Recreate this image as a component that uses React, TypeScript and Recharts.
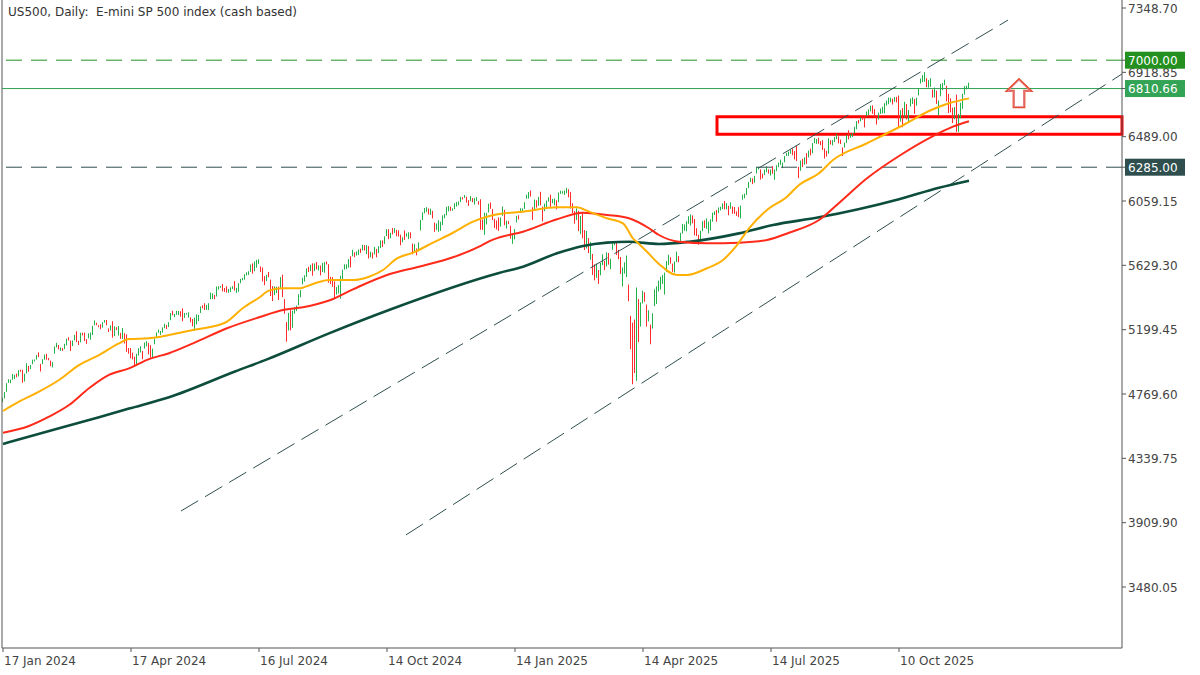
import { ComposedChart, Bar, Line, XAxis, YAxis, ReferenceLine, ReferenceArea, ReferenceDot } from "recharts"

// daily bars, [high, low, close]
const q1y24 = [
  [4744, 4714, 4739], [4783, 4740, 4780], [4842, 4785, 4840], [4868, 4844, 4851], [4866, 4842, 4865], [4903, 4865, 4868], [4898, 4870, 4894], [4906, 4881, 4891], [4929, 4887, 4928], [4932, 4918, 4925], [4931, 4845, 4846],
  [4906, 4853, 4906], [4975, 4907, 4959], [4957, 4918, 4943], [4963, 4936, 4954], [4999, 4969, 4995], [5000, 4987, 4998], [5030, 5000, 5027], [5048, 5016, 5022], [4971, 4920, 4953], [5002, 4969, 5001], [5033, 4999, 5030], [5038, 4999, 5006], [5010, 4995, 5002], [4993, 4955, 4976], [4983, 4947, 4982], [5088, 5039, 5087], [5111, 5081, 5089], [5097, 5068, 5070], [5080, 5058, 5078], [5077, 5058, 5069], [5105, 5070, 5096],
  [5140, 5094, 5137], [5149, 5127, 5131], [5127, 5057, 5079], [5127, 5090, 5105], [5165, 5128, 5157], [5189, 5117, 5124], [5125, 5097, 5117], [5179, 5115, 5175], [5179, 5161, 5165], [5180, 5124, 5150], [5136, 5105, 5117], [5175, 5142, 5149], [5180, 5132, 5179], [5225, 5164, 5225], [5262, 5229, 5241], [5246, 5229, 5234], [5229, 5216, 5218], [5236, 5203, 5204], [5249, 5213, 5248], [5264, 5246, 5254],
]
const q2y24 = [
  [5264, 5229, 5243], [5208, 5184, 5205], [5228, 5194, 5211], [5256, 5146, 5147], [5222, 5157, 5204], [5216, 5197, 5202], [5224, 5160, 5209], [5178, 5138, 5161], [5211, 5138, 5199], [5176, 5107, 5123], [5168, 5052, 5061], [5077, 5039, 5051], [5077, 5008, 5022], [5046, 5001, 5011], [5019, 4953, 4967], [5038, 4969, 5010], [5076, 5027, 5070], [5089, 5047, 5072], [5057, 5002, 5048], [5114, 5073, 5100], [5123, 5088, 5116], [5111, 5035, 5036],
  [5096, 5013, 5018], [5073, 5011, 5064], [5139, 5102, 5128], [5181, 5143, 5181], [5200, 5178, 5187], [5191, 5165, 5188], [5215, 5180, 5214], [5239, 5209, 5223], [5230, 5204, 5221], [5250, 5217, 5247], [5311, 5263, 5308], [5325, 5296, 5297], [5305, 5283, 5303], [5325, 5299, 5308], [5324, 5297, 5321], [5323, 5287, 5307], [5342, 5256, 5268], [5311, 5278, 5305], [5310, 5300, 5305], [5315, 5280, 5306], [5282, 5249, 5267], [5271, 5222, 5236], [5280, 5191, 5278],
  [5302, 5235, 5283], [5298, 5257, 5291], [5354, 5311, 5354], [5362, 5342, 5352], [5376, 5331, 5347], [5365, 5331, 5361], [5376, 5331, 5375], [5447, 5403, 5421], [5442, 5404, 5434], [5432, 5403, 5431], [5488, 5421, 5473], [5490, 5467, 5487], [5492, 5480, 5487], [5505, 5455, 5473], [5478, 5452, 5465], [5490, 5447, 5448], [5472, 5446, 5469], [5483, 5451, 5478], [5490, 5471, 5483], [5524, 5460, 5460],
]
const q3y24 = [
  [5479, 5445, 5475], [5510, 5453, 5509], [5539, 5510, 5537], [5545, 5530, 5540], [5570, 5534, 5567], [5583, 5562, 5572], [5590, 5565, 5577], [5635, 5586, 5633], [5642, 5574, 5585], [5655, 5590, 5615], [5666, 5614, 5631], [5670, 5639, 5667], [5622, 5584, 5589], [5615, 5522, 5545], [5557, 5497, 5505], [5566, 5524, 5564], [5585, 5550, 5555], [5534, 5424, 5427], [5491, 5391, 5399], [5488, 5430, 5459], [5487, 5444, 5464], [5487, 5398, 5436], [5551, 5478, 5522],
  [5567, 5417, 5446], [5404, 5306, 5347], [5250, 5119, 5186], [5312, 5194, 5240], [5330, 5195, 5199], [5326, 5212, 5319], [5350, 5306, 5344], [5360, 5324, 5344], [5436, 5362, 5434], [5464, 5416, 5455], [5546, 5502, 5543], [5563, 5521, 5554], [5609, 5552, 5608], [5620, 5584, 5597], [5633, 5591, 5620], [5643, 5560, 5571], [5642, 5590, 5635], [5651, 5602, 5616], [5629, 5595, 5625], [5628, 5562, 5592], [5646, 5585, 5592], [5651, 5580, 5648],
  [5655, 5635, 5640], [5637, 5513, 5529], [5552, 5505, 5520], [5551, 5486, 5503], [5522, 5403, 5408], [5484, 5434, 5471], [5497, 5441, 5496], [5560, 5406, 5554], [5600, 5535, 5596], [5636, 5601, 5626], [5636, 5604, 5633], [5671, 5614, 5634], [5690, 5615, 5618], [5733, 5690, 5714], [5716, 5684, 5703], [5722, 5695, 5718], [5735, 5698, 5732], [5741, 5712, 5722], [5767, 5729, 5745], [5764, 5728, 5738], [5765, 5704, 5762],
]
const q4y24 = [
  [5758, 5675, 5709], [5720, 5683, 5709], [5715, 5675, 5700], [5753, 5702, 5751], [5739, 5683, 5696], [5757, 5711, 5751], [5796, 5745, 5792], [5796, 5752, 5780], [5823, 5772, 5815], [5871, 5825, 5859], [5871, 5804, 5815], [5847, 5810, 5842], [5879, 5836, 5841], [5878, 5846, 5865], [5866, 5824, 5853], [5863, 5821, 5851], [5834, 5763, 5797], [5817, 5784, 5809], [5862, 5799, 5808], [5843, 5821, 5823], [5850, 5805, 5833], [5850, 5810, 5813], [5775, 5703, 5705],
  [5772, 5724, 5728], [5742, 5696, 5712], [5783, 5723, 5782], [5933, 5863, 5929], [5983, 5931, 5973], [6012, 5977, 5996], [6018, 5986, 6001], [6009, 5969, 5984], [6008, 5966, 5985], [5993, 5943, 5949], [5915, 5853, 5870], [5909, 5865, 5894], [5931, 5853, 5917], [5921, 5860, 5917], [5963, 5899, 5949], [5972, 5944, 5969], [6020, 5963, 5987], [6025, 5990, 6021], [6021, 5993, 5999], [6010, 5995, 6003], [6044, 6004, 6032],
  [6053, 6022, 6047], [6056, 6031, 6050], [6087, 6053, 6086], [6085, 6070, 6075], [6100, 6080, 6090], [6088, 6049, 6053], [6065, 6026, 6034], [6092, 6058, 6084], [6079, 6051, 6051], [6078, 6035, 6051], [6085, 6060, 6074], [6058, 6035, 6050], [6071, 5867, 5872], [5935, 5866, 5867], [5982, 5833, 5931], [5978, 5903, 5974], [6041, 5983, 6040], [6049, 6007, 6037], [6006, 5932, 5971], [5941, 5879, 5907], [5929, 5869, 5882],
]
const q1y25 = [
  [5950, 5859, 5869], [5949, 5888, 5942], [6022, 5960, 5975], [6000, 5897, 5909], [5928, 5875, 5918], [5925, 5905, 5915], [5893, 5808, 5827], [5841, 5773, 5837], [5871, 5803, 5843], [5960, 5915, 5950], [5964, 5936, 5937], [6011, 5979, 5997], [6010, 5990, 6000], [6051, 6006, 6049], [6101, 6074, 6086], [6119, 6075, 6119], [6129, 6089, 6101], [6018, 5932, 6012], [6069, 5994, 6068], [6064, 6015, 6039], [6087, 6027, 6071], [6121, 6030, 6041],
  [6022, 5923, 5995], [6042, 5991, 6038], [6062, 6007, 6061], [6084, 6055, 6084], [6101, 6020, 6026], [6073, 6044, 6066], [6076, 6030, 6069], [6064, 6003, 6052], [6116, 6051, 6115], [6128, 6107, 6115], [6125, 6108, 6118], [6129, 6100, 6129], [6147, 6111, 6144], [6138, 6084, 6118], [6120, 6009, 6013], [6044, 5978, 5983], [5992, 5908, 5955], [6010, 5932, 5956], [5994, 5858, 5862], [5959, 5837, 5955],
  [5986, 5810, 5850], [5865, 5732, 5779], [5860, 5742, 5843], [5812, 5711, 5739], [5785, 5667, 5770], [5705, 5565, 5615], [5636, 5529, 5573], [5642, 5546, 5599], [5598, 5505, 5522], [5645, 5563, 5639], [5703, 5631, 5675], [5660, 5597, 5615], [5716, 5622, 5676], [5712, 5634, 5663], [5673, 5603, 5668], [5775, 5733, 5768], [5786, 5764, 5777], [5780, 5698, 5712], [5732, 5670, 5693], [5685, 5572, 5581], [5615, 5488, 5612],
]
const q2y25 = [
  [5650, 5574, 5633], [5695, 5551, 5671], [5501, 5390, 5397], [5292, 5069, 5074], [5246, 4835, 5062], [5267, 4910, 4982], [5481, 4857, 5457], [5404, 5116, 5268], [5382, 5220, 5363], [5460, 5375, 5406], [5450, 5386, 5397], [5367, 5220, 5276], [5329, 5255, 5283], [5233, 5102, 5158], [5309, 5207, 5288], [5469, 5356, 5376], [5489, 5371, 5485], [5528, 5455, 5525], [5553, 5468, 5529], [5565, 5505, 5561], [5581, 5434, 5569],
  [5658, 5586, 5604], [5700, 5631, 5686], [5683, 5640, 5650], [5641, 5586, 5607], [5655, 5581, 5631], [5721, 5651, 5664], [5691, 5650, 5660], [5847, 5786, 5844], [5906, 5842, 5886], [5903, 5861, 5892], [5924, 5856, 5917], [5958, 5907, 5958], [5969, 5895, 5964], [5963, 5910, 5941], [5939, 5830, 5845], [5878, 5825, 5842], [5833, 5767, 5802], [5860, 5800, 5850], [5925, 5857, 5922], [5930, 5879, 5889], [5943, 5874, 5912], [5922, 5842, 5912],
  [5937, 5862, 5936], [5981, 5921, 5970], [5990, 5966, 5971], [5999, 5921, 5939], [6016, 5978, 6000], [6021, 5996, 6006], [6043, 6005, 6039], [6059, 6003, 6022], [6045, 6003, 6045], [6027, 5964, 5977], [6050, 6007, 6033], [6023, 5974, 5982], [6019, 5974, 5981], [5990, 5960, 5975], [6018, 5952, 5967], [6028, 5943, 6025], [6101, 6068, 6092], [6108, 6077, 6092], [6146, 6100, 6141], [6187, 6144, 6173], [6215, 6186, 6205],
]
const q3y25 = [
  [6211, 6172, 6198], [6227, 6181, 6227], [6285, 6243, 6279], [6287, 6270, 6280], [6271, 6202, 6230], [6242, 6210, 6226], [6269, 6232, 6263], [6290, 6252, 6280], [6270, 6242, 6260], [6270, 6229, 6268], [6292, 6241, 6244], [6270, 6201, 6264], [6298, 6259, 6297], [6316, 6285, 6297], [6336, 6301, 6306], [6316, 6281, 6309], [6360, 6318, 6359], [6381, 6360, 6363], [6389, 6360, 6389], [6401, 6375, 6390], [6410, 6365, 6371], [6393, 6337, 6362], [6427, 6326, 6339],
  [6288, 6212, 6238], [6330, 6261, 6330], [6341, 6286, 6299], [6351, 6302, 6345], [6379, 6306, 6340], [6396, 6350, 6389], [6409, 6364, 6374], [6446, 6378, 6446], [6480, 6445, 6466], [6473, 6441, 6469], [6482, 6441, 6450], [6459, 6432, 6449], [6466, 6401, 6411], [6410, 6343, 6396], [6394, 6356, 6370], [6478, 6375, 6467], [6466, 6437, 6440], [6466, 6431, 6466], [6486, 6454, 6481], [6508, 6472, 6502], [6491, 6444, 6460],
  [6470, 6440, 6455], [6417, 6360, 6416], [6449, 6416, 6448], [6502, 6446, 6502], [6532, 6471, 6482], [6508, 6481, 6495], [6513, 6487, 6512], [6555, 6511, 6532], [6593, 6539, 6587], [6601, 6577, 6584], [6619, 6592, 6615], [6627, 6602, 6607], [6624, 6551, 6600], [6657, 6624, 6631], [6671, 6633, 6664], [6696, 6658, 6694], [6698, 6642, 6656], [6673, 6622, 6638], [6624, 6570, 6605], [6650, 6603, 6644], [6677, 6641, 6661], [6689, 6645, 6688],
]
const q4y25 = [
  [6713, 6645, 6711], [6731, 6697, 6715], [6750, 6706, 6716], [6749, 6719, 6740], [6743, 6704, 6715], [6753, 6722, 6753], [6755, 6718, 6735], [6764, 6550, 6553], [6666, 6590, 6655], [6680, 6552, 6644], [6722, 6616, 6671], [6707, 6604, 6630], [6667, 6583, 6664], [6744, 6690, 6735], [6752, 6708, 6736], [6741, 6642, 6699], [6749, 6696, 6738], [6807, 6764, 6792], [6877, 6844, 6875], [6900, 6854, 6891], [6920, 6856, 6891], [6880, 6820, 6823], [6867, 6817, 6840],
  [6880, 6822, 6852], [6804, 6750, 6771], [6817, 6751, 6796], [6796, 6708, 6720], [6731, 6631, 6728], [6841, 6759, 6832], [6848, 6800, 6846], [6870, 6833, 6851], [6829, 6725, 6737], [6775, 6647, 6734], [6745, 6652, 6672], [6683, 6580, 6617], [6687, 6606, 6642], [6770, 6522, 6538], [6641, 6521, 6603], [6716, 6612, 6705], [6776, 6675, 6766], [6827, 6770, 6813], [6830, 6805, 6815], [6850, 6812, 6849],
]

// moving averages, [bar, value]
const ma50 = [
  [0, 4656], [8, 4718], [18, 4785], [28, 4863], [38, 4963], [48, 5030], [58, 5108], [63, 5137], [73, 5142], [83, 5164], [95, 5197], [103, 5215], [112, 5253], [120, 5344], [128, 5413], [133, 5460], [140, 5476], [148, 5476], [155, 5505], [163, 5531], [175, 5531], [183, 5553], [190, 5598], [197, 5676], [205, 5714], [215, 5781], [225, 5847], [235, 5921], [242, 5954], [248, 5972], [260, 5988], [277, 6017], [287, 6017], [293, 5988], [302, 5944], [310, 5910], [315, 5810], [318, 5772], [322, 5720], [328, 5638], [337, 5565], [342, 5565], [352, 5610], [360, 5665], [367, 5765], [373, 5877], [382, 5999], [392, 6088], [398, 6166], [408, 6244], [415, 6333], [432, 6445], [448, 6552], [465, 6672], [473, 6712], [483, 6745],
]
const ma100 = [
  [0, 4511], [13, 4556], [23, 4618], [33, 4696], [43, 4808], [53, 4897], [63, 4941], [73, 5003], [83, 5042], [95, 5108], [112, 5209], [128, 5282], [140, 5331], [150, 5349], [163, 5394], [175, 5469], [192, 5565], [208, 5620], [225, 5683], [238, 5754], [243, 5790], [248, 5815], [260, 5854], [277, 5937], [290, 5981], [302, 5966], [313, 5944], [323, 5877], [328, 5832], [338, 5787], [352, 5777], [368, 5781], [382, 5799], [393, 5847], [408, 5932], [418, 6046], [432, 6211], [448, 6360], [465, 6493], [475, 6556], [483, 6592],
]
const ma200 = [
  [0, 4436], [28, 4540], [48, 4615], [63, 4672], [83, 4748], [116, 4920], [132, 5001], [163, 5175], [194, 5336], [248, 5578], [260, 5620], [277, 5710], [290, 5759], [302, 5781], [313, 5787], [328, 5772], [343, 5787], [368, 5843], [385, 5899], [408, 5950], [448, 6071], [468, 6148], [483, 6195],
]

const labelBars = [0, 64, 128, 192, 256, 320, 384, 448]
const dateLabels = ["17 Jan 2024", "17 Apr 2024", "16 Jul 2024", "14 Oct 2024", "14 Jan 2025", "14 Apr 2025", "14 Jul 2025", "10 Oct 2025"]
const priceTicks = [7348.7, 6918.85, 6489.0, 6059.15, 5629.3, 5199.45, 4769.6, 4339.75, 3909.9, 3480.05]
const levelValues = [7000, 6810.66, 6285]

// trendlines, [bar, price]
const channelUpper = [[89, 3988], [502.5, 7268]]
const channelLower = [[201.5, 3828], [559.5, 6908]]
const zone = { from: 357, low: 6505, high: 6622 }
const arrowAt = { bar: 508, price: 6779 }

const candles = [...q1y24, ...q2y24, ...q3y24, ...q4y24, ...q1y25, ...q2y25, ...q3y25, ...q4y25]

const rows: any[] = candles.map((b, i) => ({
  i,
  range: [b[1], b[0]],
  up: i === 0 ? true : b[2] >= candles[i - 1][2],
}))
ma50.forEach(([i, v]) => (rows[i].ma50 = v))
ma100.forEach(([i, v]) => (rows[i].ma100 = v))
ma200.forEach(([i, v]) => (rows[i].ma200 = v))

const FONT = "DejaVu Sans, Verdana, sans-serif"
const levelStyle = [
  { fill: "#23901f", line: "#23901f", dash: "16 9" },
  { fill: "#33a355", line: "#33a355", dash: undefined },
  { fill: "#2f4f4f", line: "#2f4f4f", dash: "16 9" },
]

function CandleShape(props: any) {
  const { x, y, width, height, payload } = props
  const top = Math.min(y, y + height)
  const h = Math.max(Math.abs(height), 1)
  return <rect x={Math.floor(x + width / 2)} y={top} width={1} height={h} fill={payload.up ? "#22b24c" : "#ff2b2b"} />
}

function PriceTick(props: any) {
  const { x, y, payload } = props
  const v = payload.value
  const k = levelValues.indexOf(v)
  if (k >= 0) {
    return (
      <g>
        <rect x={x - 3} y={y - 8.5} width={60} height={17} fill={levelStyle[k].fill} />
        <text x={x} y={y} dy={4.5} fill="#fff" fontSize={12} fontFamily={FONT}>{v.toFixed(2)}</text>
      </g>
    )
  }
  return <text x={x} y={y} dy={4.5} fill="#444" fontSize={12} fontFamily={FONT}>{v.toFixed(2)}</text>
}

function DateTick(props: any) {
  const { x, y, payload } = props
  return (
    <text x={x + 1} y={y} dy={11} fill="#444" fontSize={12} fontFamily={FONT} textAnchor="start">
      {dateLabels[labelBars.indexOf(payload.value)]}
    </text>
  )
}

function ArrowShape(props: any) {
  const { cx, cy } = props
  const d = `M${cx},${cy - 14} L${cx + 12},${cy - 2.3} L${cx + 5.3},${cy - 2.3} L${cx + 5.3},${cy + 14} L${cx - 5.3},${cy + 14} L${cx - 5.3},${cy - 2.3} L${cx - 12},${cy - 2.3} Z`
  return (
    <g>
      <path d={d} fill="none" stroke="#e4502b" strokeWidth={2.2} strokeLinejoin="miter" />
      <path d={d} fill="none" stroke="#e7a0d6" strokeWidth={0.7} transform={`translate(${cx * 0.06},${cy * 0.06}) scale(0.94)`} />
    </g>
  )
}

export default function App() {
  return (
    <div style={{ position: "absolute", left: 0, top: 0, width: 1200, height: 675, background: "#fff" }}>
      <div style={{ position: "absolute", left: 8, top: 5, fontFamily: FONT, fontSize: 12, color: "#333", whiteSpace: "pre", lineHeight: "14px", zIndex: 2 }}>
        {"US500, Daily:  E-mini SP 500 index (cash based)"}
      </div>
      <ComposedChart width={1200} height={675} data={rows} margin={{ top: 0, right: 0, bottom: 0, left: 2 }}>
        <XAxis
          dataKey="i"
          type="number"
          domain={[-0.5, 559.5]}
          ticks={labelBars}
          interval={0}
          height={27}
          tick={<DateTick />}
          tickSize={4}
          tickMargin={2}
          stroke="#555"
          allowDataOverflow
        />
        <YAxis
          orientation="right"
          type="number"
          domain={[3072.5, 7402.2]}
          ticks={[...priceTicks, ...levelValues]}
          interval={0}
          width={78}
          tick={<PriceTick />}
          tickSize={4}
          tickMargin={2}
          stroke="#555"
          allowDataOverflow
        />
        <ReferenceLine x={-0.5} stroke="#555" ifOverflow="visible" />
        {levelValues.map((v, k) => (
          <ReferenceLine key={v} y={v} stroke={levelStyle[k].line} strokeDasharray={levelStyle[k].dash} strokeWidth={1} />
        ))}
        <ReferenceLine
          segment={[{ x: channelUpper[0][0], y: channelUpper[0][1] }, { x: channelUpper[1][0], y: channelUpper[1][1] }]}
          stroke="#2f4f4f"
          strokeDasharray="20 8"
          ifOverflow="visible"
        />
        <ReferenceLine
          segment={[{ x: channelLower[0][0], y: channelLower[0][1] }, { x: channelLower[1][0], y: channelLower[1][1] }]}
          stroke="#2f4f4f"
          strokeDasharray="20 8"
          ifOverflow="visible"
        />
        <Line dataKey="ma200" type="monotone" stroke="#0c4d3b" strokeWidth={2.6} dot={false} connectNulls isAnimationActive={false} />
        <Line dataKey="ma100" type="monotone" stroke="#ff2a1a" strokeWidth={2} dot={false} connectNulls isAnimationActive={false} />
        <Line dataKey="ma50" type="monotone" stroke="#ffb000" strokeWidth={2} dot={false} connectNulls isAnimationActive={false} />
        <Bar dataKey="range" barSize={1} shape={<CandleShape />} isAnimationActive={false} />
        <ReferenceArea x1={zone.from} x2={559.5} y1={zone.low} y2={zone.high} fill="none" fillOpacity={0} stroke="#ff0000" strokeWidth={3} ifOverflow="visible" />
        <ReferenceDot x={arrowAt.bar} y={arrowAt.price} shape={<ArrowShape />} ifOverflow="visible" />
      </ComposedChart>
    </div>
  )
}
